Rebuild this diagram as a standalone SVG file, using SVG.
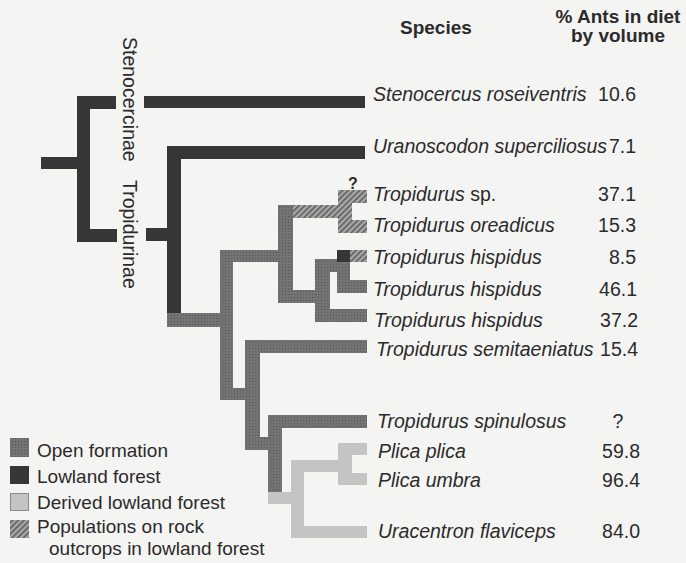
<svg xmlns="http://www.w3.org/2000/svg" width="686" height="563" viewBox="0 0 686 563">
<defs>
<pattern id="hatch" patternUnits="userSpaceOnUse" width="4" height="4" patternTransform="rotate(45)">
<rect width="4" height="4" fill="#a8a8a8"/>
<rect width="1.6" height="4" fill="#5e5e5e"/>
</pattern>
<pattern id="dots" patternUnits="userSpaceOnUse" width="3" height="3">
<rect width="3" height="3" fill="#737373"/>
<rect width="1" height="1" fill="#575757"/>
</pattern>
</defs>
<style>
.lf{fill:#363636}
.of{fill:url(#dots)}
.dl{fill:#c4c4c4}
.rk{fill:url(#hatch)}
text{font-family:"Liberation Sans",Arial,sans-serif;fill:#2b2b2b;font-size:19.5px}
.sp{font-style:italic}
.hd{font-weight:bold;font-size:19px}
.num{text-anchor:end}
.lg{font-size:19px}
</style>
<rect width="686" height="563" fill="#f4f4f2"/>

<g id="header">
<text class="hd" x="400" y="34">Species</text>
<text class="hd" x="618" y="23" text-anchor="middle">% Ants in diet</text>
<text class="hd" x="618" y="42" text-anchor="middle">by volume</text>
</g>

<g id="clade-labels">
<text transform="translate(123,37) rotate(90)">Stenocercinae</text>
<text transform="translate(123,180) rotate(90)">Tropidurinae</text>
</g>

<g id="connectors">
<rect class="lf" x="41" y="157" width="37" height="12"/>
<rect class="lf" x="77" y="96" width="13" height="146"/>
<rect class="lf" x="77" y="96" width="39" height="13"/>
<rect class="lf" x="144" y="96" width="221" height="12"/>
<rect class="lf" x="77" y="229" width="40" height="13"/>
<rect class="lf" x="146" y="228" width="22" height="13"/>
<rect class="lf" x="167" y="146" width="14" height="167"/>
<rect class="lf" x="167" y="146" width="198" height="13"/>

<rect class="of" x="167" y="313" width="66" height="14"/>
<rect class="of" x="220" y="250" width="13" height="150"/>
<rect class="of" x="220" y="250" width="73" height="12"/>
<rect class="of" x="278" y="205" width="15" height="98"/>
<rect class="of" x="278" y="290" width="52" height="13"/>
<rect class="of" x="315" y="259" width="15" height="63"/>
<rect class="of" x="315" y="259" width="35" height="13"/>
<rect class="of" x="315" y="309" width="52" height="13"/>
<rect class="of" x="337" y="250" width="13" height="43"/>
<rect class="of" x="337" y="280" width="30" height="13"/>
<rect class="lf" x="337" y="250" width="13" height="12"/>
<rect class="rk" x="350" y="250" width="17" height="12"/>

<rect class="rk" x="293" y="205" width="50" height="13"/>
<rect class="rk" x="338" y="190" width="14" height="43"/>
<rect class="rk" x="338" y="190" width="29" height="13"/>
<rect class="rk" x="338" y="220" width="29" height="13"/>

<rect class="of" x="220" y="388" width="40" height="12"/>
<rect class="of" x="245" y="340" width="15" height="110"/>
<rect class="of" x="245" y="340" width="122" height="13"/>
<rect class="of" x="245" y="437" width="37" height="13"/>
<rect class="of" x="268" y="415" width="14" height="77"/>
<rect class="of" x="268" y="415" width="99" height="13"/>

<rect class="dl" x="268" y="492" width="35" height="12"/>
<rect class="dl" x="291" y="460" width="13" height="78"/>
<rect class="dl" x="291" y="460" width="61" height="12"/>
<rect class="dl" x="338" y="443" width="14" height="42"/>
<rect class="dl" x="338" y="443" width="29" height="12"/>
<rect class="dl" x="338" y="473" width="29" height="12"/>
<rect class="dl" x="291" y="526" width="76" height="12"/>
<text x="353" y="189" text-anchor="middle" style="font-size:16px;font-weight:bold">?</text>
</g>

<g id="taxon-stenocercus"><text class="sp" x="373" y="101">Stenocercus roseiventris</text><text class="num" x="636" y="101">10.6</text></g>
<g id="taxon-uranoscodon"><text class="sp" x="373" y="153">Uranoscodon superciliosus</text><text class="num" x="636" y="153">7.1</text></g>
<g id="taxon-tropidurus-sp"><text x="373" y="201"><tspan class="sp">Tropidurus</tspan> sp.</text><text class="num" x="636" y="201">37.1</text></g>
<g id="taxon-oreadicus"><text class="sp" x="373" y="232">Tropidurus oreadicus</text><text class="num" x="636" y="232">15.3</text></g>
<g id="taxon-hispidus-1"><text class="sp" x="373" y="264">Tropidurus hispidus</text><text class="num" x="636" y="264">8.5</text></g>
<g id="taxon-hispidus-2"><text class="sp" x="373" y="296">Tropidurus hispidus</text><text class="num" x="637" y="296">46.1</text></g>
<g id="taxon-hispidus-3"><text class="sp" x="374" y="327">Tropidurus hispidus</text><text class="num" x="638" y="327">37.2</text></g>
<g id="taxon-semitaeniatus"><text class="sp" x="376" y="356">Tropidurus semitaeniatus</text><text class="num" x="638" y="356">15.4</text></g>
<g id="taxon-spinulosus"><text class="sp" x="377" y="428">Tropidurus spinulosus</text><text x="618" y="428" text-anchor="middle">?</text></g>
<g id="taxon-plica-plica"><text class="sp" x="378" y="458">Plica plica</text><text class="num" x="640" y="458">59.8</text></g>
<g id="taxon-plica-umbra"><text class="sp" x="378" y="487">Plica umbra</text><text class="num" x="640" y="487">96.4</text></g>
<g id="taxon-uracentron"><text class="sp" x="378" y="538">Uracentron flaviceps</text><text class="num" x="640" y="538">84.0</text></g>

<g id="legend">
<rect class="of" x="10" y="438" width="19" height="19"/>
<text class="lg" x="37" y="457">Open formation</text>
<rect class="lf" x="10" y="466" width="19" height="18"/>
<text class="lg" x="37" y="483">Lowland forest</text>
<rect class="dl" x="10.5" y="493.5" width="18" height="17" stroke="#8a8a8a" stroke-width="1"/>
<text class="lg" x="37" y="509">Derived lowland forest</text>
<rect class="rk" x="10" y="520" width="19" height="18"/>
<text class="lg" x="37" y="533">Populations on rock</text>
<text class="lg" x="49" y="555">outcrops in lowland forest</text>
</g>
</svg>
